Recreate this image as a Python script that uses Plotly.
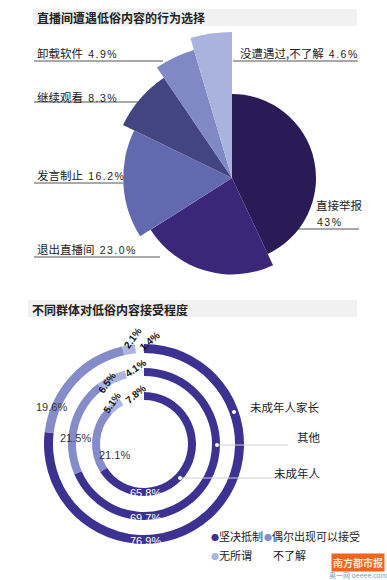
import plotly.graph_objects as go

W, H = 387, 580

# ---------------- data ----------------
top_cats = ["直接举报", "退出直播间", "发言制止", "继续观看", "卸载软件", "没遭遇过,不了解"]
top_vals = [43, 23.0, 16.2, 8.3, 4.9, 4.6]
top_labels = ["43%", "23.0%", "16.2%", "8.3%", "4.9%", "4.6%"]

groups = ["未成年人家长", "其他", "未成年人"]
attitudes = ["坚决抵制", "偶尔出现可以接受", "无所谓", "不了解"]
parents = [76.9, 19.6, 2.1, 1.4]
others = [69.7, 21.5, 6.5, 4.1]
minors = [65.8, 21.1, 5.1, 7.8]

# ---------------- styles ----------------
FONT = "Noto Sans CJK SC"
top_colors = ["#2a1b57", "#3b2679", "#6369ae", "#434583", "#8089c3", "#aab2de"]
ring_colors = ["#3d3192", "#848dca", "#adb5df", "#ffffff"]


def px(x):
    return x / W


def py(y):
    return 1 - y / H


fig = go.Figure()

# ---------- top: rose-style pie (barpolar) ----------
total = sum(top_vals)
widths = [v / total * 360 for v in top_vals]
thetas, acc = [], 0
for w in widths:
    thetas.append(acc + w / 2)
    acc += w
radii = [84 + 12.4 * i for i in range(len(top_vals))]

fig.add_trace(go.Barpolar(
    r=radii, theta=thetas, width=widths,
    marker=dict(color=top_colors, line=dict(width=0)),
    hoverinfo="skip", showlegend=False,
))

cx, cy, R = 232, 178, 150
fig.update_layout(polar=dict(
    domain=dict(x=[px(cx - R), px(cx + R)], y=[py(cy + R), py(cy - R)]),
    bgcolor="rgba(0,0,0,0)",
    radialaxis=dict(visible=False, range=[0, R]),
    angularaxis=dict(visible=False, rotation=90, direction="clockwise"),
    hole=0,
))

# ---------- bottom: concentric rings ----------
rcx, rcy = 144, 444
ring_specs = [(parents, 100, 91), (others, 76, 68), (minors, 52, 44)]
for vals, ro, ri in ring_specs:
    fig.add_trace(go.Pie(
        values=vals, labels=attitudes, sort=False, direction="clockwise",
        rotation=0, hole=ri / ro, textinfo="none", hoverinfo="skip",
        marker=dict(colors=ring_colors, line=dict(width=0)),
        domain=dict(x=[px(rcx - ro), px(rcx + ro)], y=[py(rcy + ro), py(rcy - ro)]),
        showlegend=False,
    ))

shapes = []
annotations = []

# title bars
for (x0, y0, x1, y1) in [(33, 9, 357, 26), (28, 300, 357, 317)]:
    shapes.append(dict(type="rect", xref="paper", yref="paper", x0=px(x0), x1=px(x1),
                       y0=py(y1), y1=py(y0), fillcolor="#f1f1f1", line=dict(width=0), layer="below"))

annotations.append(dict(text="<b>直播间遭遇低俗内容的行为选择</b>", x=px(35), y=py(18), xanchor="left",
                        yanchor="middle", font=dict(size=12, color="#222", family=FONT)))
annotations.append(dict(text="<b>不同群体对低俗内容接受程度</b>", x=px(30), y=py(309), xanchor="left",
                        yanchor="middle", font=dict(size=12, color="#222", family=FONT)))

# top labels with leader lines
pct_style = "font-size:10.5px;letter-spacing:1.5px;font-family:Liberation Sans"
top_pos = {
    # idx: (text x, text y, line x0, line x1, line y)
    4: (35, 53, 34, 163, 61),
    5: (238, 53, 233, 358, 61),
    3: (35, 97, 34, 138, 102),
    2: (35, 175, 34, 123, 183),
    1: (35, 249, 34, 160, 257),
}
for i, (tx, ty, lx0, lx1, ly) in top_pos.items():
    annotations.append(dict(
        text=f"{top_cats[i]}  <span style='{pct_style}'>{top_labels[i]}</span>",
        x=px(tx), y=py(ty), xanchor="left", yanchor="middle",
        font=dict(size=11.5, color="#222", family=FONT)))
    shapes.append(dict(type="line", xref="paper", yref="paper", x0=px(lx0), x1=px(lx1),
                       y0=py(ly), y1=py(ly), line=dict(color="#555", width=1), layer="below"))

annotations.append(dict(text=top_cats[0], x=px(314), y=py(205), xanchor="left", yanchor="middle",
                        font=dict(size=11.5, color="#222", family=FONT)))
annotations.append(dict(text=f"<span style='{pct_style}'>{top_labels[0]}</span>", x=px(315), y=py(222),
                        xanchor="left", yanchor="middle", font=dict(size=11.5, color="#222", family=FONT)))
shapes.append(dict(type="line", xref="paper", yref="paper", x0=px(295), x1=px(359),
                   y0=py(229), y1=py(229), line=dict(color="#555", width=1), layer="below"))

# ring group labels, leader lines and dots
grp_pos = [  # dot x, dot y, label x, label y, line end
    (234, 412, 248, 407, None),
    (217, 445, 295, 437, 288),
    (180, 478, 272, 473, 317),
]
for g, (dx, dy, lx, ly, lend) in zip(groups, grp_pos):
    if lend:
        shapes.append(dict(type="line", xref="paper", yref="paper", x0=px(dx), x1=px(lend),
                           y0=py(dy), y1=py(dy), line=dict(color="#d0d0d8", width=1)))
    shapes.append(dict(type="circle", xref="paper", yref="paper", x0=px(dx - 2), x1=px(dx + 2),
                       y0=py(dy + 2), y1=py(dy - 2), fillcolor="white", line=dict(width=0)))
    annotations.append(dict(text=g, x=px(lx), y=py(ly), xanchor="left", yanchor="middle",
                            font=dict(size=11.5, color="#222", family=FONT)))

# ring percentage labels
series = [parents, others, minors]
for vals, yy in zip(series, [541, 518, 493]):
    annotations.append(dict(text=f"{vals[0]}%", x=px(145), y=py(yy), xanchor="center", yanchor="middle",
                            font=dict(size=11, color="white", family="Liberation Sans")))
for vals, (xx, yy) in zip(series, [(34, 407), (58, 438), (97, 455)]):
    annotations.append(dict(text=f"{vals[1]}%", x=px(xx), y=py(yy), xanchor="left", yanchor="middle",
                            font=dict(size=11, color="#333", family="Liberation Sans")))
small_pos = [
    [(132, 338, -55), (149, 341, -40)],
    [(107, 382, -55), (135, 368, -35)],
    [(112, 402, -55), (135, 394, -40)],
]
for vals, poss in zip(series, small_pos):
    for v, (xx, yy, ang) in zip(vals[2:], poss):
        annotations.append(dict(text=f"<b>{v}%</b>", x=px(xx), y=py(yy), xanchor="center", yanchor="middle",
                                textangle=ang, font=dict(size=10, color="#111", family="Liberation Sans")))

# legend (custom)
leg_pos = [(209, 536), (262, 536), (209, 555), (263, 555)]
for lab, col, (lx, ly) in zip(attitudes, ring_colors, leg_pos):
    dot = f"<span style='color:{col};font-size:8px'>●</span>"
    annotations.append(dict(text=f"{dot}{lab}", x=px(lx), y=py(ly), xanchor="left", yanchor="middle",
                            font=dict(size=11, color="#222", family=FONT)))

# watermark
annotations.append(dict(text="<b>南方都市报</b>", x=px(358), y=py(562), xanchor="center", yanchor="middle",
                        bgcolor="#f0641e", borderpad=1, font=dict(size=10, color="#ffe9d0", family=FONT)))
annotations.append(dict(text="奥一网 oeeee.com", x=px(358), y=py(575), xanchor="center", yanchor="middle",
                        font=dict(size=7, color="#7a9ac0", family=FONT)))

for a in annotations:
    a.setdefault("xref", "paper")
    a.setdefault("yref", "paper")
    a.setdefault("showarrow", False)

fig.update_layout(
    width=W, height=H, autosize=False,
    margin=dict(l=0, r=0, t=0, b=0),
    paper_bgcolor="white", plot_bgcolor="white",
    shapes=shapes, annotations=annotations,
    font=dict(family=FONT),
)

fig.write_html("out.html")
